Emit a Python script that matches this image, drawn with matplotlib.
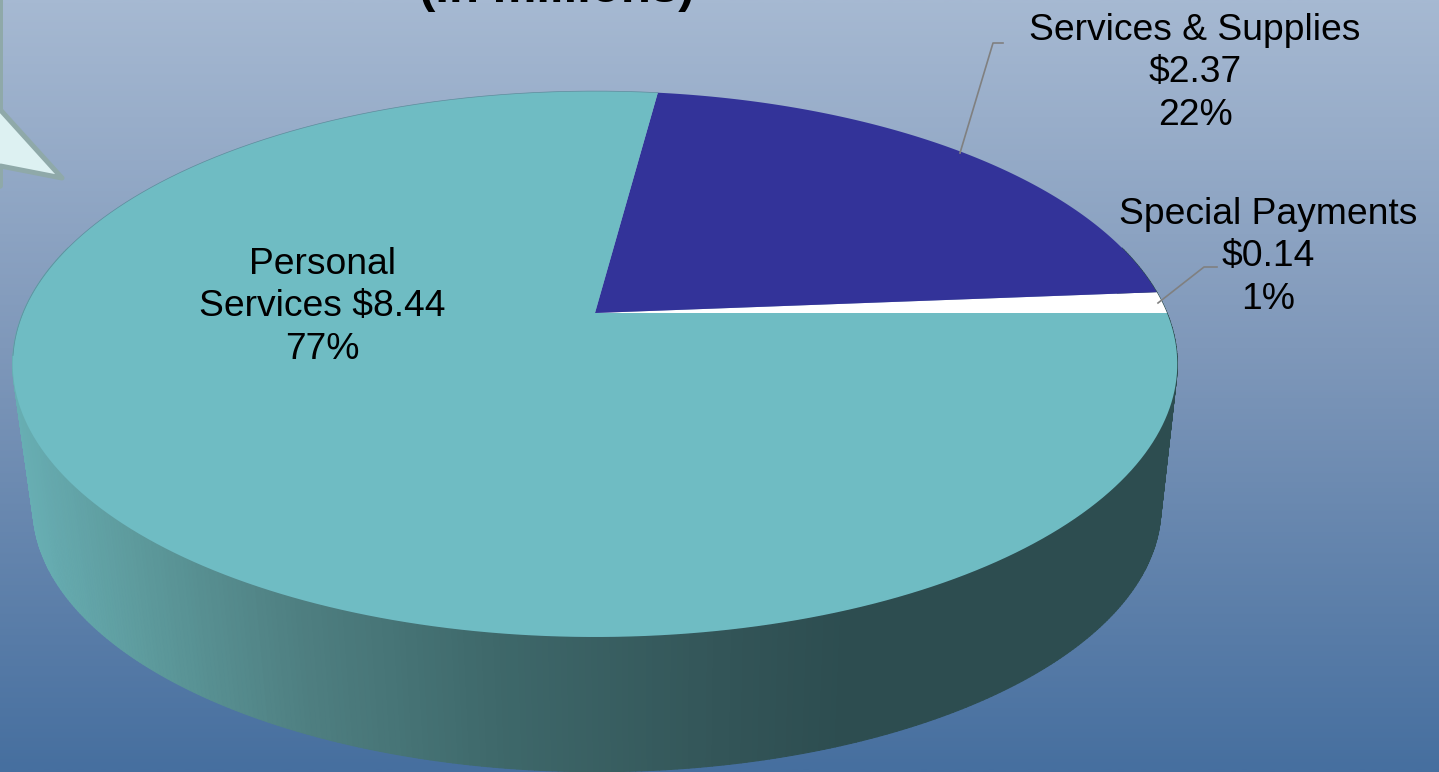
import numpy as np
import matplotlib
matplotlib.use("Agg")
import matplotlib.pyplot as plt
from matplotlib.patches import Polygon
from matplotlib.collections import PolyCollection
from matplotlib.colors import LinearSegmentedColormap

plt.rcParams['font.family'] = ['Liberation Sans', 'DejaVu Sans']

# data
categories = ["Special Payments", "Services & Supplies", "Personal Services"]
values = [0.14, 2.37, 8.44]
percents = ["1%", "22%", "77%"]
colors = ["#FFFFFF", "#333399", "#6FBCC3"]
title = "(In millions)"

W, H = 1439, 772
fig = plt.figure(figsize=(W / 100, H / 100), dpi=100)
ax = fig.add_axes([0, 0, 1, 1])
ax.set_xlim(0, W)
ax.set_ylim(H, 0)
ax.axis("off")

# background gradient
bg = LinearSegmentedColormap.from_list("bg", [(0, "#A6B9D2"), (0.45, "#7F98BA"), (1, "#466F9F")])
ax.imshow(np.linspace(0, 1, 400)[:, None], cmap=bg, extent=[0, W, H, 0], aspect="auto", zorder=0)

# perspective projection of the disc
K = 0.187
def top(t):
    u, v = np.cos(t), np.sin(t)
    d = 1 + K * v
    return 595 + 572 * u / d, 313 - 263.4 * v / d
def bottom(t):
    u, v = np.cos(t), np.sin(t)
    d = 1 + K * v
    return 597 + 554 * u / d, 458 - 255 * v / d

# side wall
side = LinearSegmentedColormap.from_list(
    "side", [(0, "#68AFB4"), (0.148, "#5D9A9C"), (0.333, "#4F8082"), (0.58, "#3E686A"), (0.85, "#335558"), (1, "#2D4D50")])
ts = np.radians(np.linspace(165, 375, 420))
xt, yt = top(ts)
xb, yb = bottom(ts)
quads, cols = [], []
for i in range(len(ts) - 1):
    quads.append([(xt[i], yt[i]), (xt[i + 1], yt[i + 1]), (xb[i + 1], yb[i + 1]), (xb[i], yb[i])])
    cols.append(side(np.clip((xb[i] - 30) / (840 - 30), 0, 1)))
ax.add_collection(PolyCollection(quads, facecolors=cols, edgecolors=cols, linewidths=0.8, zorder=2))

# top face wedges
cum = np.concatenate([[0], np.cumsum(values)]) / np.sum(values) * 2 * np.pi
for i, c in enumerate(colors):
    t = np.linspace(cum[i], cum[i + 1], 240)
    x, y = top(t)
    ax.add_patch(Polygon(np.column_stack([np.r_[595, x], np.r_[313, y]]), closed=True,
                         facecolor=c, edgecolor="none", zorder=3))
t = np.linspace(cum[2], np.pi * 1.05, 360)
ax.plot(*top(t), color="#5E8C9C", lw=0.5, zorder=3.5)

# callout fragment
ax.add_patch(Polygon([(-10, -10), (0.5, -10), (0.5, 110), (62, 178), (0.5, 166), (0.5, 186), (-10, 190)], closed=True,
                     facecolor="#DDF1F2", edgecolor="#8FA9A9", lw=3.6, joinstyle="round", zorder=4))

# leader lines
ax.plot([1003, 993, 960], [43, 43, 153], color="#808080", lw=1.2, zorder=5)
ax.plot([1217, 1204, 1158], [267, 267, 303], color="#808080", lw=1.2, zorder=5)

# labels
fs = 26.8
kw = dict(ha="center", va="center", fontsize=fs, color="black", linespacing=1.27, zorder=6, parse_math=False)
ax.text(1195, 73, f"{categories[1]}\n${values[1]:.2f}\n{percents[1]}", **kw)
ax.text(1268.5, 257, f"{categories[0]}\n${values[0]:.2f}\n{percents[0]}", **kw)
ax.text(322, 307, f"Personal\nServices ${values[2]:.2f}\n{percents[2]}", **kw)
ax.text(556.5, 1.5, title, ha="center", va="baseline", fontsize=35.4, fontweight="bold", color="black", zorder=6)

fig.savefig("out.png", dpi=100)
